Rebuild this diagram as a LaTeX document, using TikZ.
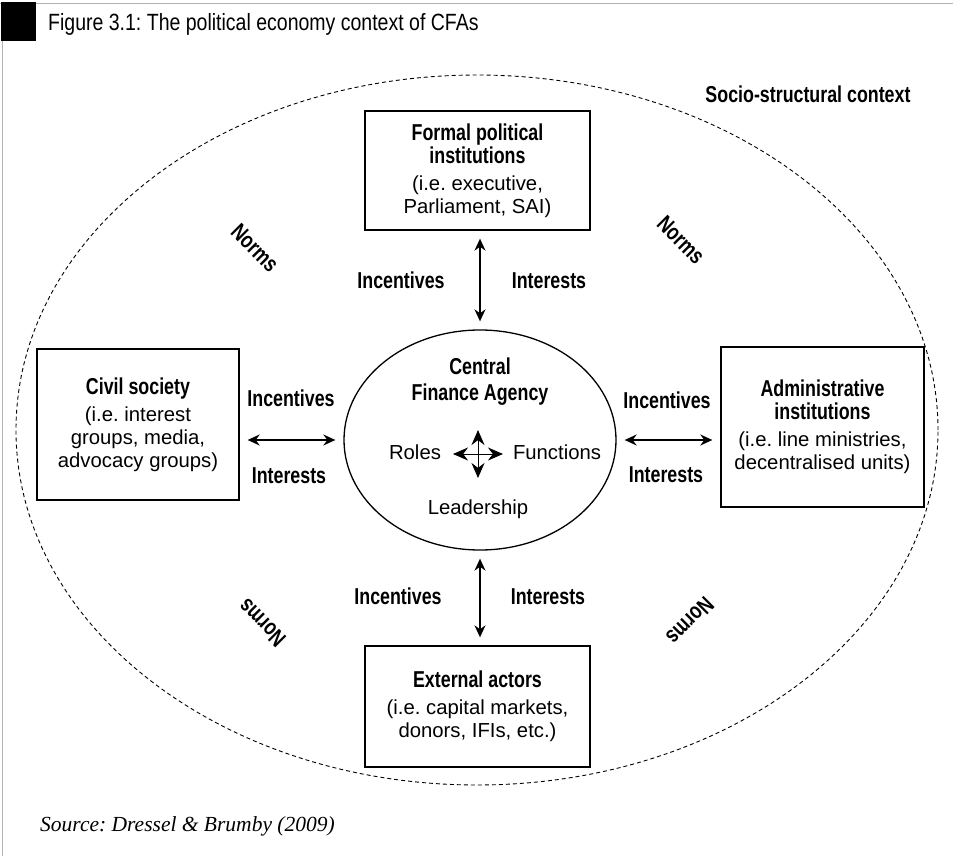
\documentclass[tikz,border=0pt]{standalone}
\usepackage{fontspec}
\setmainfont{Liberation Sans}
\newfontfamily\myBoldFam{Liberation Sans}[FakeStretch=0.775]
\newfontfamily\myTitleFam{Liberation Sans}[FakeStretch=0.83]
\newfontfamily\mySrcFam{Liberation Serif}
\newcommand\fBold{\myBoldFam\bfseries\fontsize{23}{23}\selectfont}
\newcommand\fBoldB{\myBoldFam\bfseries\fontsize{23}{26}\selectfont}
\newcommand\fReg{\normalfont\fontsize{20.3}{23}\selectfont}
\newcommand\fTitle{\myTitleFam\fontsize{23.5}{24}\selectfont}
\newcommand\fSrc{\mySrcFam\itshape\fontsize{21.5}{24}\selectfont}
\frenchspacing
\usetikzlibrary{arrows.meta,shapes.geometric}
\begin{document}
\begin{tikzpicture}[x=1pt,y=-1pt,
  box/.style={draw, line width=1.3pt, align=center, inner sep=0pt, font=\fReg},
  lab/.style={inner sep=0pt, font=\fBold},
  blab/.style={inner sep=0pt, font=\fBold, anchor=base},
  conn/.style={line width=1.6pt, {Stealth[length=12pt,width=11pt]}-{Stealth[length=12pt,width=11pt]}, shorten <=8pt, shorten >=8pt},
  crossarr/.style={line width=1pt, {Stealth[length=15pt,width=13pt]}-{Stealth[length=15pt,width=13pt]}},
]
\useasboundingbox (0,0) rectangle (953,856);
\fill[white] (0,0) rectangle (953,856);
% frame
\draw[black!30, line width=1.5pt] (0,3.5) -- (953,3.5);
\draw[black!30, line width=1.2pt] (2.5,3) -- (2.5,856);
\fill[black] (0.5,2) rectangle (36,41);
\node[anchor=base west, inner sep=0pt, font=\fTitle] (title) at (48,30.5) {Figure 3.1: The political economy context of CFAs};

% socio-structural context
\coordinate (ctx) at (477,430);
\draw[dash pattern=on 4pt off 3pt, line width=0.9pt] (ctx) ellipse [x radius=461pt, y radius=355pt];
\node[blab] (socio) at (808,103) {Socio-structural context};

% boxes
\node[box, minimum width=225pt, minimum height=119pt] (formal) at (477.5,170.5)
  {\fBold Formal political\\\fBold institutions\\[4pt](i.e. executive,\\Parliament, SAI)};
\node[box, minimum width=202pt, minimum height=151pt] (civil) at (138,424.5)
  {\fBold Civil society\\[4pt](i.e. interest\\groups, media,\\advocacy groups)};
\node[box, minimum width=203pt, minimum height=160pt] (admin) at (822.5,427)
  {\fBold Administrative\\\fBold institutions\\[4pt](i.e. line ministries,\\decentralised units)};
\node[box, minimum width=225pt, minimum height=121pt] (external) at (477.5,706.5)
  {\fBold External actors\\[4pt](i.e. capital markets,\\donors, IFIs, etc.)};

% central finance agency
\node[draw, ellipse, line width=1.3pt, minimum width=272pt, minimum height=220pt, inner sep=0pt] (cfa) at (480,440) {};
\node[inner sep=0pt, align=center, font=\fBoldB] (cfatitle) at (480,382) {Central\\Finance Agency};
\node[inner sep=0pt, anchor=base, font=\fReg] (roles) at (415,459) {Roles};
\node[inner sep=0pt, anchor=base, font=\fReg] (functions) at (557,459) {Functions};
\node[inner sep=0pt, anchor=base, font=\fReg] (leader) at (478,514) {Leadership};
\coordinate (cross) at (478,454);
\draw[crossarr] ([yshift=24pt]cross) -- ([yshift=-24pt]cross);
\draw[crossarr] ([xshift=-25pt]cross) -- ([xshift=25pt]cross);

% connectors
\draw[conn] (cfa.north |- formal.south) -- (cfa.north);
\draw[conn] (cfa.south) -- (cfa.south |- external.north);
\draw[conn] (civil.east |- cfa.west) -- (cfa.west);
\draw[conn] (cfa.east) -- (admin.west |- cfa.east);

% labels
\node[blab] (inct) at (401,288) {Incentives};
\node[blab] (intt) at (549,288) {Interests};
\node[blab] (incl) at (291,406) {Incentives};
\node[blab] (intl) at (289,483) {Interests};
\node[blab] (incr) at (667,408) {Incentives};
\node[blab] (intr) at (666,482) {Interests};
\node[blab] (incb) at (398,604) {Incentives};
\node[blab] (intb) at (548,604) {Interests};

% norms
\node[lab, rotate=-45] (n1) at (255,248) {Norms};
\node[lab, rotate=-45] (n2) at (681,240) {Norms};
\node[lab, rotate=135] (n3) at (262,623) {Norms};
\node[lab, rotate=-135] (n4) at (690,621) {Norms};

% source
\node[anchor=base west, inner sep=0pt, font=\fSrc] (src) at (40,831) {Source: Dressel \& Brumby (2009)};
\end{tikzpicture}
\end{document}
